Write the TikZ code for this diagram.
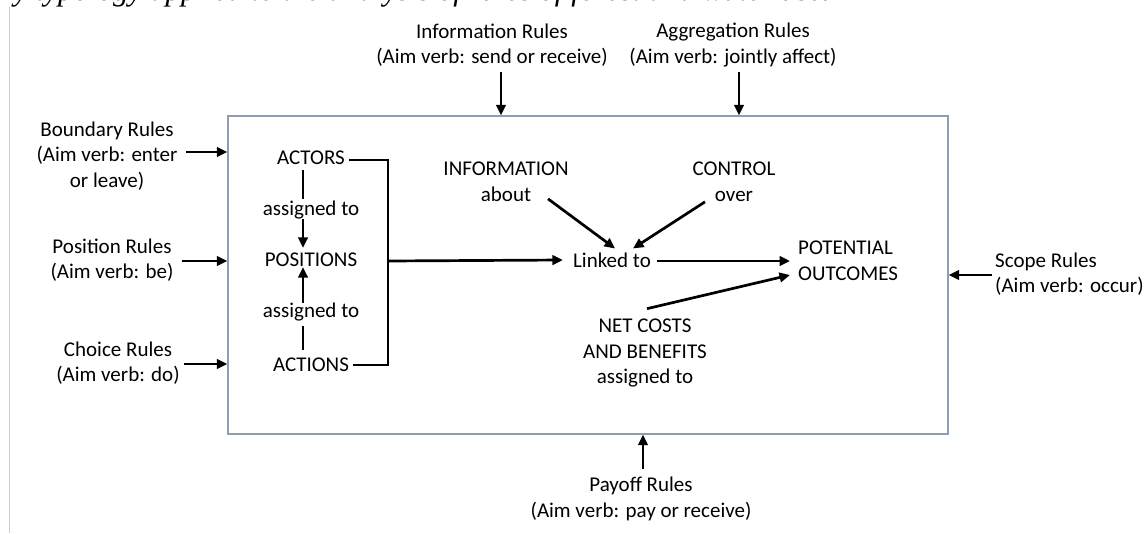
\documentclass[tikz,border=0pt]{standalone}
\usepackage{fontspec}
\setmainfont{Carlito}
\newfontfamily\headserif{Liberation Serif}
\usetikzlibrary{arrows.meta,calc}
\definecolor{framegray}{RGB}{140,158,178}
\definecolor{pagerule}{RGB}{205,205,205}
\begin{document}
\begin{tikzpicture}[x=1pt,y=-1pt,
  txt/.style={font=\fontsize{21}{25.5}\selectfont, align=center, inner sep=0pt},
  txtl/.style={txt, align=left},
  arr/.style={line width=2.7pt, -{Triangle[length=10.5pt,width=9.5pt]}},
  link/.style={line width=2.7pt},
  frame/.style={draw=framegray, line width=1.4pt, minimum width=720pt,
                minimum height=318pt, inner sep=0pt}]
\useasboundingbox (0,0) rectangle (1148,533);
\clip (0,0) rectangle (1148,533);
\fill[white] (0,0) rectangle (1148,533);
% thin rule at the left page margin
\draw[pagerule, line width=1pt] (9,7) -- (9,533);
% caption line running off the top edge
\node[anchor=base west, inner sep=0pt,
      font=\headserif\itshape\fontsize{31}{31}\selectfont] (caption) at (14,0)
  {y typology applied to the analysis of rules of forest and water use.};

% the action situation
\node[frame] (box) at (588,275) {};

% rules acting on the situation
\node[txt] (boundary) at (107,156) {Boundary Rules\\(Aim verb: enter\\or leave)};
\node[txt] (position) at (112,260) {Position Rules\\(Aim verb: be)};
\node[txt] (choice)   at (118,363) {Choice Rules\\(Aim verb: do)};
\node[txt] (inforule) at (492,45)  {Information Rules\\(Aim verb: send or receive)};
\node[txt] (aggrule)  at (733,45)  {Aggregation Rules\\(Aim verb: jointly affect)};
\node[txt] (payoff)   at (641,499) {Payoff Rules\\(Aim verb: pay or receive)};
\node[txtl, anchor=west] (scope) at (995,274) {Scope Rules\\(Aim verb: occur)};

% elements inside the situation
\node[txt] (actors)    at (311,158) {ACTORS};
\node[txt] (asgA)      at (311,210) {assigned to};
\node[txt] (positions) at (311,260) {POSITIONS};
\node[txt] (asgB)      at (311,312) {assigned to};
\node[txt] (actions)   at (311,365) {ACTIONS};
\node[txt] (info)      at (506,182) {INFORMATION\\about};
\node[txt] (control)   at (734,182) {CONTROL\\over};
\node[txt] (linked)    at (612,260) {Linked to};
\node[txtl, anchor=west] (outcomes) at (798,261) {POTENTIAL\\OUTCOMES};
\node[txt] (net)       at (645,353) {NET COSTS\\AND BENEFITS\\assigned to};

% rule arrows into the frame
\draw[arr] ($(boundary.east)+(8,-4)$) coordinate (bIn) -- (bIn -| box.west);
\draw[arr] ($(position.east)+(8,1)$)  coordinate (pIn) -- (pIn -| box.west);
\draw[arr] ($(choice.east)+(4,1)$)    coordinate (cIn) -- (cIn -| box.west);
\draw[arr] ($(inforule.south)+(9,5)$) coordinate (iIn) -- (iIn |- box.north);
\draw[arr] ($(aggrule.south)+(6,5)$)  coordinate (aIn) -- (aIn |- box.north);
\draw[arr] ($(payoff.north)+(2,-8)$)  coordinate (yIn) -- (yIn |- box.south);
\draw[arr] ($(scope.west)+(-3,1)$)    coordinate (sIn) -- (sIn -| box.east);

% actors and actions assigned to positions
\draw[link] ($(actors.south)+(-8,5)$) -- ($(asgA.north)+(-8,-2)$);
\draw[arr]  ($(asgA.south)+(-8,0)$) -- ($(positions.north)+(-8,-5)$);
\draw[link] ($(actions.north)+(-8,-8)$) -- ($(asgB.south)+(-8,5)$);
\draw[arr]  ($(asgB.north)+(-8,0)$) -- ($(positions.south)+(-8,0)$);

% bracket gathering the left column
\coordinate (brk) at (388,261);
\draw[link] ($(actors.east)+(4,2)$) -| (brk) |- ($(actions.east)+(4,0)$);
\draw[arr] (brk) -- ($(linked.west)+(-10,0)$);

% flows towards the outcomes
\draw[arr] ($(info.south)+(42,-3)$) -- ($(linked.north)+(3,-4)$);
\draw[arr] ($(control.south)+(-29,0)$) -- ($(linked.north)+(21,-4)$);
\draw[arr] ($(linked.east)+(6,1)$) -- ($(outcomes.west)+(-8,0)$);
\draw[arr] ($(net.north)+(2,-10)$) -- ($(outcomes.west)+(-8,14)$);
\end{tikzpicture}
\end{document}
